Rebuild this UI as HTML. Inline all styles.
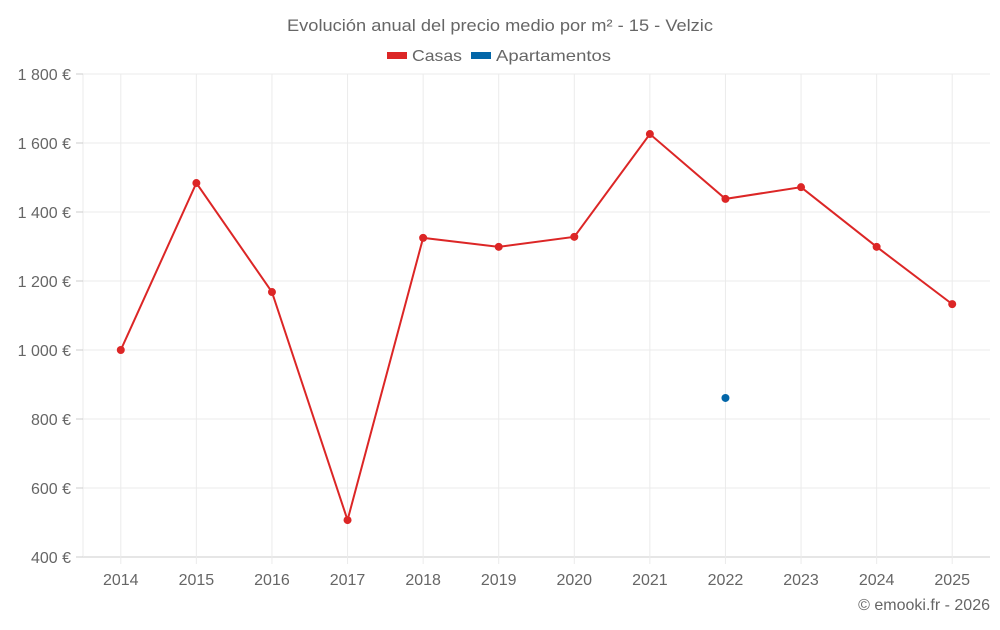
<!DOCTYPE html>
<html><head><meta charset="utf-8"><style>
body{margin:0;background:#fff;font-family:"Liberation Sans",sans-serif;}
svg text{font-family:"Liberation Sans",sans-serif;fill:#666;}
</style></head><body>
<svg id="c" width="1000" height="625">
<text x="287" y="31" textLength="426" lengthAdjust="spacingAndGlyphs" font-size="17">Evolución anual del precio medio por m² - 15 - Velzic</text>
<g>
<rect x="387" y="52" width="20" height="7" fill="#dc2626"/>
<text x="412" y="61" font-size="16" textLength="50" lengthAdjust="spacingAndGlyphs">Casas</text>
<rect x="471" y="52" width="20" height="7" fill="#0366a8"/>
<text x="496" y="61" font-size="16" textLength="115" lengthAdjust="spacingAndGlyphs">Apartamentos</text>
</g>
<g id="grid"></g><g id="axes"></g><g id="marks"></g>
<text x="990" y="610" text-anchor="end" font-size="16">© emooki.fr - 2026</text>
</svg>
<script>
const years=["2014","2015","2016","2017","2018","2019","2020","2021","2022","2023","2024","2025"];
const casas=[1000,1484,1168,507,1325,1299,1328,1626,1438,1472,1299,1133];
const apartamentos=[null,null,null,null,null,null,null,null,861,null,null,null];
const yTicks=[400,600,800,1000,1200,1400,1600,1800];
const yTickLabels=["400 €","600 €","800 €","1 000 €","1 200 €","1 400 €","1 600 €","1 800 €"];
const NS="http://www.w3.org/2000/svg";
const L=83,R=990,T=74,B=557,ymin=400,ymax=1800;
const bw=(R-L)/years.length;
const x=i=>L+bw*(i+0.5);
const y=v=>B-(v-ymin)/(ymax-ymin)*(B-T);
function mk(tag,at,parent){const e=document.createElementNS(NS,tag);for(const k in at)e.setAttribute(k,at[k]);document.getElementById(parent).appendChild(e);return e;}
yTicks.forEach((v,i)=>{
 const g=mk('line',{x1:L,x2:R,y1:y(v),y2:y(v),stroke:i==0?'#ccc':'#ebebeb'},'grid');
 
 
 const tk=mk('line',{x1:76,x2:L,y1:y(v),y2:y(v),stroke:'#ccc'},'axes');
 
 
 const t=mk('text',{x:71,y:y(v)+6,'text-anchor':'end','font-size':16},'axes');
 t.textContent=yTickLabels[i];
 
 
});
const al=mk('line',{x1:L,x2:L,y1:T,y2:B,stroke:'#ebebeb'},'grid');


years.forEach((yr,i)=>{
 const g=mk('line',{x1:x(i),x2:x(i),y1:T,y2:B+7,stroke:'#ebebeb'},'grid');
 
 
 const t=mk('text',{x:x(i),y:585,'text-anchor':'middle','font-size':16},'axes');
 t.textContent=yr;
 
 
});
const pts=casas.map((v,i)=>v==null?null:x(i)+','+y(v)).filter(p=>p).join(' ');
const pl=mk('polyline',{points:pts,fill:'none',stroke:'#dc2626','stroke-width':2},'marks');


casas.forEach((v,i)=>{if(v==null)return;
 const c=mk('circle',{cx:x(i),cy:y(v),r:4,fill:'#dc2626'},'marks');
 
 
});
apartamentos.forEach((v,i)=>{if(v==null)return;
 const c=mk('circle',{cx:x(i),cy:y(v),r:4,fill:'#0366a8'},'marks');
 
 
});
</script>
</body></html>
